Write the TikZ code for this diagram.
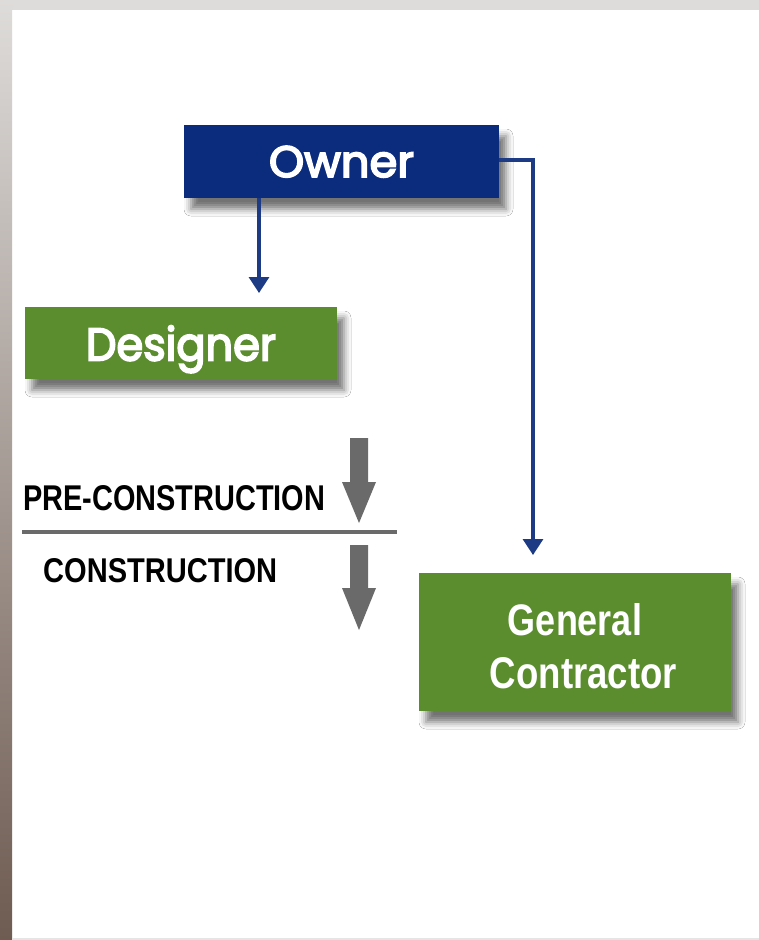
\documentclass[tikz,border=0pt]{standalone}
\usepackage{fontspec}
\usepackage{graphicx}
\setmainfont{Liberation Sans}
\newfontfamily\gothic{Poppins}[FakeBold=4]
\usetikzlibrary{arrows.meta,shadows.blur}
\definecolor{navy}{HTML}{0B2C7C}
\definecolor{linkblue}{HTML}{1C3B84}
\definecolor{leaf}{HTML}{5B8D2E}
\definecolor{arrowgray}{HTML}{6A6A6A}
\definecolor{frametop}{HTML}{DEDCDA}
\definecolor{framebot}{HTML}{6E5B51}
\tikzset{
  box/.style={anchor=north west, inner sep=0pt, outer sep=0pt, text=white, text depth=0pt,
    blur shadow={shadow xshift=7pt, shadow yshift=-11pt, shadow blur radius=7pt, shadow opacity=55}},
  boxtext/.style={anchor=base, inner sep=0pt, text=white},
  phase/.style={anchor=base west, inner sep=0pt, text=black},
  link/.style={draw=linkblue, line width=3.2pt, -{Triangle[width=20pt,length=16pt]}},
  blockarrow/.style={fill=arrowgray},
  divider/.style={draw=arrowgray, line width=4pt}
}
\begin{document}
\begin{tikzpicture}[x=1pt,y=-1pt]
\useasboundingbox (0,0) rectangle (759,940);
\fill[white] (0,0) rectangle (759,940);
\fill[frametop] (0,0) rectangle (759,10);
\shade[top color=frametop, bottom color=framebot] (0,0) rectangle (12,940);
\fill[gray!20] (12,938) rectangle (759,940);

\node[box, fill=navy, minimum width=315pt, minimum height=73pt] (owner) at (184,125)
  {\resizebox{145pt}{31pt}{\gothic Owner}};
\node[box, fill=leaf, minimum width=312pt, minimum height=72pt] (designer) at (25,307)
  {\resizebox{190pt}{35pt}{\gothic Designer}};
\node[box, fill=leaf, minimum width=312pt, minimum height=138pt] (gc) at (419,573) {};
\node[boxtext] (gc1) at (575,635) {\resizebox{134pt}{32pt}{\bfseries General}};
\node[boxtext] (gc2) at (583.5,688) {\resizebox{187pt}{31pt}{\bfseries Contractor}};

\draw[link, shorten >=14pt] ([xshift=75pt]owner.south west) -- ([xshift=75pt]owner.south west |- designer.north);
\draw[link, shorten >=18pt] ([yshift=1.5pt]owner.east) -| ([xshift=114pt]gc.north west);

\node[phase] (pre) at (23,510) {\resizebox{302pt}{25pt}{\bfseries PRE-CONSTRUCTION}};
\node[phase] (con) at (43,582) {\resizebox{234pt}{24pt}{\bfseries CONSTRUCTION}};
\draw[divider] (22,531.5) -- (397,531.5);

\fill[blockarrow] (350,438) -- (368,438) -- (368,482) -- (376,482) -- (359,523) -- (342,482) -- (350,482) -- cycle;
\fill[blockarrow] (350,545) -- (368,545) -- (368,588) -- (376,588) -- (359,630) -- (342,588) -- (350,588) -- cycle;
\end{tikzpicture}
\end{document}
